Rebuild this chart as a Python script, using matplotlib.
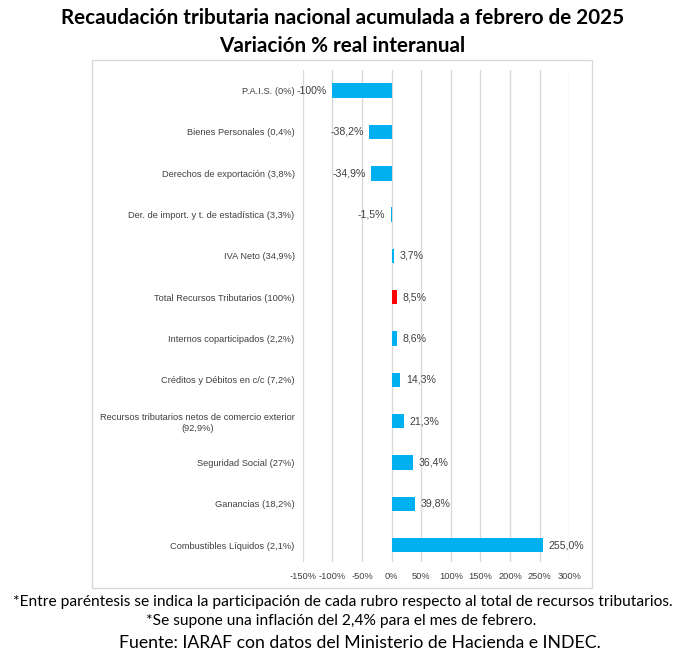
import matplotlib
matplotlib.use("Agg")
import matplotlib.pyplot as plt
from matplotlib.patches import Rectangle

# rubros (participación) y variación % real interanual
rubros = [
    "P.A.I.S. (0%)",
    "Bienes Personales (0,4%)",
    "Derechos de exportación (3,8%)",
    "Der. de import. y t. de estadística (3,3%)",
    "IVA Neto (34,9%)",
    "Total Recursos Tributarios (100%)",
    "Internos coparticipados (2,2%)",
    "Créditos y Débitos en c/c (7,2%)",
    "Recursos tributarios netos de comercio exterior\n(92,9%)",
    "Seguridad Social (27%)",
    "Ganancias (18,2%)",
    "Combustibles Líquidos (2,1%)",
]
variacion = [-100, -38.2, -34.9, -1.5, 3.7, 8.5, 8.6, 14.3, 21.3, 36.4, 39.8, 255.0]
etiquetas = ["-100%", "-38,2%", "-34,9%", "-1,5%", "3,7%", "8,5%", "8,6%",
             "14,3%", "21,3%", "36,4%", "39,8%", "255,0%"]
ticks = [-150, -100, -50, 0, 50, 100, 150, 200, 250, 300]

azul = "#00B0F0"
rojo = "#FF0000"
colores = [rojo if r.startswith("Total") else azul for r in rubros]

W, H = 685, 666
fig = plt.figure(figsize=(W / 100, H / 100), dpi=100)

# marco gris del grafico
fig.add_artist(Rectangle((92 / W, 1 - 588 / H), 500 / W, 528 / H,
                         transform=fig.transFigure, fill=False,
                         edgecolor="#D9D9D9", lw=1))

ax = fig.add_axes([302.9 / W, 1 - 562 / H, 266.4 / W, 492 / H])
y = list(range(len(rubros)))
ax.barh(y, variacion, height=0.35, color=colores, zorder=3)

for yi, v, t in zip(y, variacion, etiquetas):
    dx = -4 if v < 0 else 4
    ax.annotate(t, (v, yi), xytext=(dx, 0), textcoords="offset points",
                ha="right" if v < 0 else "left", va="center", fontsize=7.6,
                family="Liberation Sans", color="#404040")

ax.set_xlim(-150, 300)
ax.set_ylim(len(rubros) - 0.59, -0.5)
ax.set_xticks(ticks)
ax.set_xticklabels([f"{t}%" for t in ticks])
ax.set_yticks(y)
ax.set_yticklabels(rubros, multialignment="center")
ax.tick_params(axis="both", length=0, labelsize=6.7, labelcolor="#404040")
ax.tick_params(axis="y", pad=6)
ax.tick_params(axis="x", pad=7)
for lbl in ax.get_xticklabels() + ax.get_yticklabels():
    lbl.set_family("Liberation Sans")
ax.grid(axis="x", color="#D9D9D9", lw=1, zorder=0)
for s in ax.spines.values():
    s.set_visible(False)

fig.text(0.5, 1 - 18 / H, "Recaudación tributaria nacional acumulada a febrero de 2025",
         ha="center", va="center", fontsize=14.9, fontweight="bold", family="Lato")
fig.text(0.5, 1 - 46 / H, "Variación % real interanual",
         ha="center", va="center", fontsize=14.9, fontweight="bold", family="Lato")

fig.text(343 / W, 1 - 602 / H,
         "*Entre paréntesis se indica la participación de cada rubro respecto al total de recursos tributarios.",
         ha="center", va="center", fontsize=11.2, family="Lato")
fig.text(341 / W, 1 - 621 / H, "*Se supone una inflación del 2,4% para el mes de febrero.",
         ha="center", va="center", fontsize=11.2, family="Lato")
fig.text(360 / W, 1 - 643 / H, "Fuente: IARAF con datos del Ministerio de Hacienda e INDEC.",
         ha="center", va="center", fontsize=12.7, family="Lato")

fig.savefig("out.png", dpi=100)
